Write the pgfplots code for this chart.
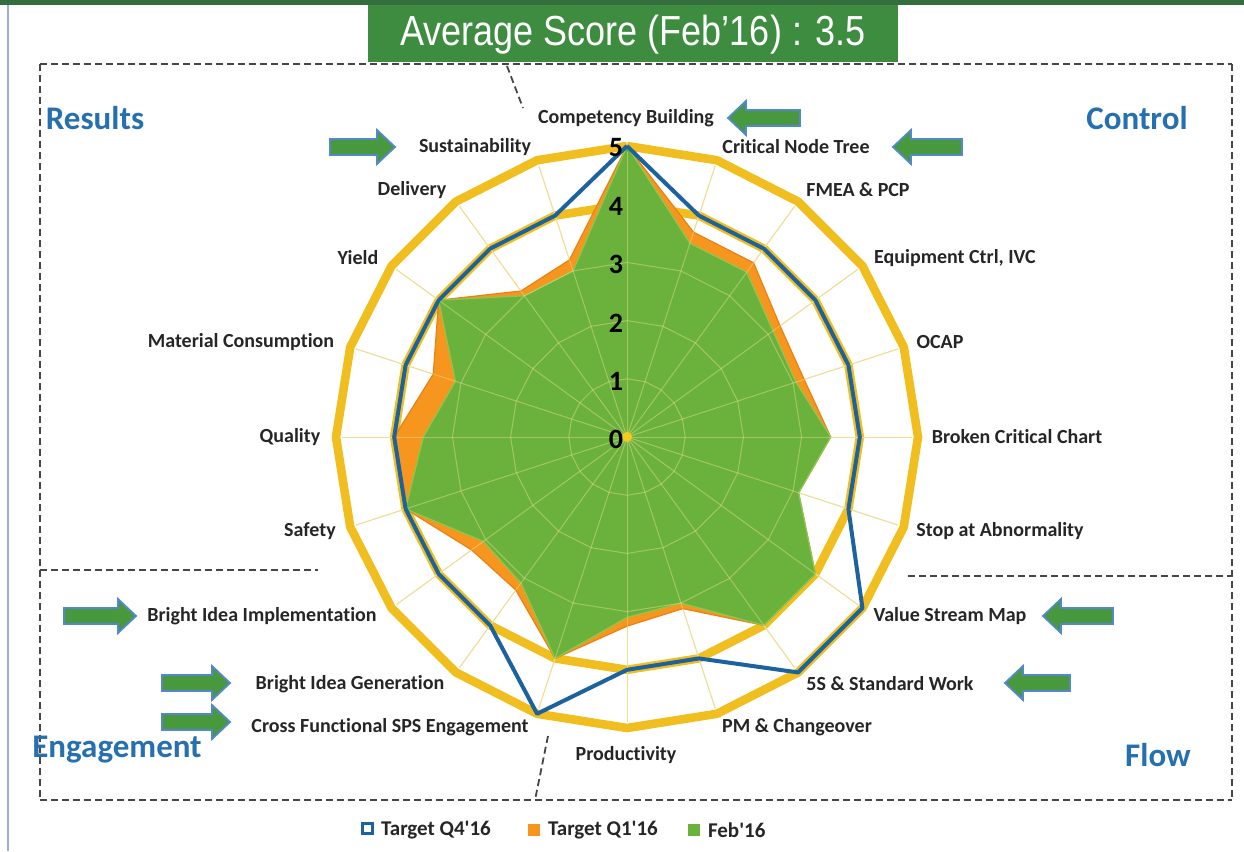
\documentclass[border=0pt]{standalone}
\usepackage{pgfplots}
\pgfplotsset{compat=1.18}
\usepackage{fontspec}
\setmainfont{Carlito}[Ligatures={NoCommon,NoContextual,TeXOff}, Contextuals=NoAlternate]
\newfontfamily\arialfont{Liberation Sans}
\definecolor{gold}{RGB}{241,190,32}
\definecolor{gridc}{RGB}{238,222,150}
\definecolor{bluel}{RGB}{28,98,158}
\definecolor{orangef}{RGB}{247,150,30}
\definecolor{orangee}{RGB}{232,130,20}
\definecolor{greenf}{RGB}{106,178,60}
\definecolor{greene}{RGB}{140,200,80}
\definecolor{titlegreen}{RGB}{61,140,64}
\definecolor{topbar}{RGB}{52,110,62}
\definecolor{secblue}{RGB}{38,112,176}
\definecolor{arrowfill}{RGB}{72,152,62}
\definecolor{arrowedge}{RGB}{84,136,206}
\definecolor{dashc}{RGB}{70,70,70}
\newcommand\rarrow[3]{\filldraw[fill=arrowfill, draw=arrowedge, line width=0.9pt] (#1,#3-8) -- (#2-18,#3-8) -- (#2-18,#3-17) -- (#2,#3) -- (#2-18,#3+17) -- (#2-18,#3+8) -- (#1,#3+8) -- cycle;}
\newcommand\larrow[3]{\filldraw[fill=arrowfill, draw=arrowedge, line width=0.9pt] (#2,#3-8) -- (#1+18,#3-8) -- (#1+18,#3-17) -- (#1,#3) -- (#1+18,#3+17) -- (#1+18,#3+8) -- (#2,#3+8) -- cycle;}
\begin{document}
\begin{tikzpicture}
\begin{scope}[x=0.5pt,y=-0.5pt,yshift=425.5pt]
  \fill[white] (0,0) rectangle (1244,851);
\end{scope}
\begin{axis}[at={(0,0)}, anchor=south west, scale only axis, width=622pt, height=425.5pt,
  xmin=-10.773, xmax=10.601, ymin=-7.113, ymax=7.509, hide axis, clip=false]
  % gold ring at 4 (behind)
  \addplot[data cs=polar, gold, line width=4.3pt, line join=round, no marks] coordinates {(90,4) (72,4) (54,4) (36,4) (18,4) (0,4) (-18,4) (-36,4) (-54,4) (-72,4) (-90,4) (-108,4) (-126,4) (-144,4) (-162,4) (-180,4) (-198,4) (-216,4) (-234,4) (-252,4) (-270,4)};
  % gold ring at 5
  \addplot[data cs=polar, gold, line width=4.3pt, line join=round, no marks] coordinates {(90,5) (72,5) (54,5) (36,5) (18,5) (0,5) (-18,5) (-36,5) (-54,5) (-72,5) (-90,5) (-108,5) (-126,5) (-144,5) (-162,5) (-180,5) (-198,5) (-216,5) (-234,5) (-252,5) (-270,5)};
  % thin grid underneath
  \pgfplotsinvokeforeach{1,2,3}{
    \addplot[data cs=polar, gridc, line width=0.5pt, no marks] coordinates {(90,#1) (72,#1) (54,#1) (36,#1) (18,#1) (0,#1) (-18,#1) (-36,#1) (-54,#1) (-72,#1) (-90,#1) (-108,#1) (-126,#1) (-144,#1) (-162,#1) (-180,#1) (-198,#1) (-216,#1) (-234,#1) (-252,#1) (-270,#1)};
  }
  \pgfplotsinvokeforeach{90,72,54,36,18,0,-18,-36,-54,-72,-90,-108,-126,-144,-162,-180,-198,-216,-234,-252}{
    \addplot[data cs=polar, gridc, line width=0.5pt, no marks] coordinates {(#1,0) (#1,4.9)};
  }
  % Target Q1'16 (orange area)
  \addplot[data cs=polar, fill=orangef, draw=orangee, line width=0.6pt, line join=round, no marks] coordinates {(90,5) (72,3.7) (54,3.7) (36,3.25) (18,3.2) (0,3.5) (-18,3.1) (-36,4) (-54,4) (-72,3.1) (-90,3.25) (-108,4) (-126,3.25) (-144,3.3) (-162,4) (-180,4) (-198,3.5) (-216,4) (-234,3.1) (-252,3.2) (-270,5)};
  % Feb'16 (green area)
  \addplot[data cs=polar, fill=greenf, draw=greene, line width=0.6pt, line join=round, no marks] coordinates {(90,5) (72,3.5) (54,3.5) (36,3.1) (18,3.05) (0,3.5) (-18,3.1) (-36,4) (-54,4) (-72,3.0) (-90,3.1) (-108,4) (-126,3.1) (-144,3.05) (-162,4) (-180,3.5) (-198,3.1) (-216,4) (-234,3.0) (-252,3.0) (-270,5)};
  % grid over the areas
  \pgfplotsinvokeforeach{1,2,3}{
    \addplot[data cs=polar, gridc, opacity=0.45, line width=0.5pt, no marks] coordinates {(90,#1) (72,#1) (54,#1) (36,#1) (18,#1) (0,#1) (-18,#1) (-36,#1) (-54,#1) (-72,#1) (-90,#1) (-108,#1) (-126,#1) (-144,#1) (-162,#1) (-180,#1) (-198,#1) (-216,#1) (-234,#1) (-252,#1) (-270,#1)};
  }
  \pgfplotsinvokeforeach{90,72,54,36,18,0,-18,-36,-54,-72,-90,-108,-126,-144,-162,-180,-198,-216,-234,-252}{
    \addplot[data cs=polar, gridc, opacity=0.45, line width=0.5pt, no marks] coordinates {(#1,0) (#1,4.9)};
  }
  % Target Q4'16 (blue line)
  \addplot[data cs=polar, bluel, line width=2pt, line join=round, no marks] coordinates {(90,5) (72,4) (54,4) (36,4) (18,4) (0,4) (-18,4) (-36,5) (-54,5) (-72,4) (-90,4) (-108,5) (-126,4) (-144,4) (-162,4) (-180,4) (-198,4) (-216,4) (-234,4) (-252,4) (-270,5)};
  \fill[gold!80!yellow] (axis cs:0,0) circle[radius=2.5pt];
\end{axis}
\begin{scope}[x=0.5pt,y=-0.5pt,yshift=425.5pt]
  % slide frame
  \fill[topbar] (0,0) rectangle (1244,5);
  \draw[color={rgb,255:red,150;green,175;blue,210}, line width=0.8pt] (8,5) -- (8,851);
  % dashed boxes
  \begin{scope}[dashc, line width=0.9pt, dash pattern=on 3.5pt off 2pt]
    \draw (40,64) -- (1232,64);
    \draw (40,64) -- (40,800);
    \draw (1232,64) -- (1232,800);
    \draw (40,800) -- (1232,800);
    \draw (40,570) -- (318,570);
    \draw (908,576) -- (1232,576);
    \draw (507,66) -- (523,108);
    \draw (548,736) -- (535,800);
  \end{scope}
  % title
  \fill[titlegreen] (368,5) rectangle (898,62);
  \node[white, font=\arialfont\fontsize{20}{22}\selectfont] at (633,35) {\scalebox{0.9}[1.05]{Average Score (Feb’16) : 3.5}};
  % section names
  \begin{scope}[font=\bfseries\fontsize{16.5}{19}\selectfont, text=secblue]
    \node at (95,118) {Results};
    \node at (1137,118) {Control};
    \node at (117,750) {Engagement};
    \node at (1158,755) {Flow};
  \end{scope}
  % category labels
  \begin{scope}[font=\bfseries\fontsize{10}{12}\selectfont, text=black!85]
    \node at (626,118) {Competency Building};
    \node at (796,147) {Critical Node Tree};
    \node at (858,190) {FMEA \& PCP};
    \node at (955,258) {Equipment Ctrl, IVC};
    \node at (940,342) {OCAP};
    \node at (1017,437) {Broken Critical Chart};
    \node at (1000,531) {Stop at Abnormality};
    \node at (950,616) {Value Stream Map};
    \node at (890,684) {5S \& Standard Work};
    \node at (797,727) {PM \& Changeover};
    \node at (626,755) {Productivity};
    \node at (390,727) {Cross Functional SPS Engagement};
    \node at (350,684) {Bright Idea Generation};
    \node at (262,616) {Bright Idea Implementation};
    \node at (310,531) {Safety};
    \node at (290,437) {Quality};
    \node at (241,342) {Material Consumption};
    \node at (358,258) {Yield};
    \node at (412,190) {Delivery};
    \node at (475,147) {Sustainability};
  \end{scope}
  % radial tick labels
  \begin{scope}[font=\bfseries\fontsize{14}{16}\selectfont, text=black]
    \node at (616,439) {0};
    \node at (616,381) {1};
    \node at (616,323) {2};
    \node at (616,264) {3};
    \node at (616,206) {4};
    \node at (616,148) {5};
  \end{scope}
  % arrows
  \larrow{728}{800}{118}
  \larrow{893}{962}{147}
  \rarrow{330}{395}{147}
  \rarrow{64}{136}{616}
  \rarrow{162}{230}{683}
  \rarrow{162}{230}{722}
  \larrow{1043}{1113}{616}
  \larrow{1005}{1070}{683}
  % legend
  \filldraw[fill=white, draw=bluel, line width=1.5pt] (362,824) rectangle (372,834);
  \node[anchor=west, font=\bfseries\fontsize{10.5}{12}\selectfont, text=black!85] at (374,830) {Target Q4'16};
  \fill[orangef] (528,824) rectangle (540,836);
  \node[anchor=west, font=\bfseries\fontsize{10.5}{12}\selectfont, text=black!85] at (541,830) {Target Q1'16};
  \fill[greenf] (688,824) rectangle (700,836);
  \node[anchor=west, font=\bfseries\fontsize{10.5}{12}\selectfont, text=black!85] at (701,830) {Feb'16};
\end{scope}
\end{tikzpicture}
\end{document}
